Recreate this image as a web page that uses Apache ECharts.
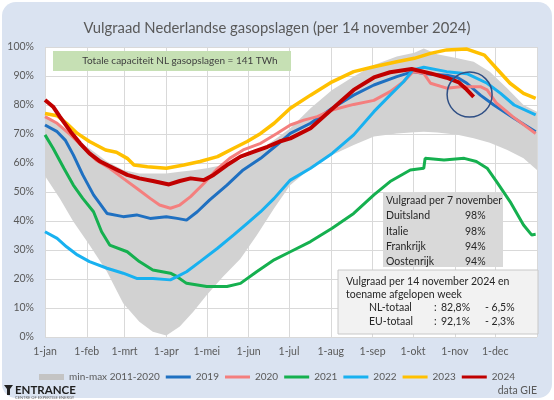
<!DOCTYPE html>
<html><head><meta charset="utf-8">
<script src="https://cdn.jsdelivr.net/npm/echarts@6/dist/echarts.min.js"></script>
<style>
html,body{margin:0;padding:0;background:#fff;}
#panel{position:absolute;left:2px;top:2px;width:550px;height:396px;border-radius:14px;background:#dae3f1;}
#c{position:absolute;left:0;top:0;width:554px;height:400px;}
</style></head>
<body><div id="panel"></div><div id="c"></div>
<script>
// ---- axis / tick data ----
const monthStarts = [0,31,59,90,120,151,181,212,243,273,304,334];
const monthLabels = ['1-jan','1-feb','1-mrt','1-apr','1-mei','1-jun','1-jul','1-aug','1-sep','1-okt','1-nov','1-dec'];
const yearDays = 365;

// ---- min-max band 2011-2020 ----
const bandDays = [0,11,21,33,46,58,70,80,90,100,110,120,132,145,157,170,182,197,213,229,244,261,274,281,291,306,318,330,343,355,365];
const bandMax  = [76,73,68.5,65,60.5,57.6,56.4,56.4,56.4,57,57.5,58.2,59.3,61,63.9,67.9,72,78.9,85.2,89.8,93.8,96.7,98,99.5,97.5,96.1,94.9,91.5,85.7,80,77.7];
const bandMin  = [55.5,47.8,39.8,31.7,22.5,11.6,5.3,1.8,0.5,3.6,8.7,14.5,20.8,27,35,44.4,52.4,58.2,62.8,66.2,69.1,70.2,70.6,70.8,70.5,69.7,68.5,67,64.5,61.6,57.6];

// ---- yearly series: [day of year, % filled] ----
const s2019 = [[0,73.1],[9,70.8],[15,67.9],[21,62.8],[28,55.9],[36,49],[46,42.6],[58,41.5],[68,42.1],[78,40.9],[90,41.5],[98,40.9],[105,40.3],[113,43.2],[122,47.2],[135,52.4],[147,57.6],[160,61.6],[172,66.2],[182,70.2],[197,73.7],[213,78.9],[229,83.4],[244,86.9],[261,89.8],[273,91.5],[286,90.6],[298,90.3],[306,89.5],[313,87.5],[323,83.4],[333,80],[348,75.4],[364,70.8]];
const s2020 = [[0,76],[9,73.7],[19,69.7],[28,65.6],[38,61],[48,58.2],[58,54.7],[68,51.3],[78,47.8],[85,45.5],[93,44.4],[100,45.5],[108,48.4],[118,53],[127,57.6],[137,61.6],[147,64.5],[160,66.8],[172,70.2],[182,73.1],[192,74.8],[202,76],[213,78.3],[229,80.2],[244,81.6],[256,84.6],[266,88],[273,91.5],[281,90.9],[286,87.5],[298,85.8],[308,86.3],[323,86.3],[328,85.2],[335,80.6],[347,76],[364,70.2]];
const s2021 = [[0,69.7],[6,65.1],[14,58.2],[21,52.4],[28,47.8],[36,43.2],[42,36.3],[48,31.7],[61,29.4],[70,26],[80,23.1],[93,22],[98,20.8],[105,18.5],[120,17.4],[135,17.4],[145,18.5],[157,22.5],[170,26.6],[182,29.4],[197,32.9],[213,37.5],[229,42.6],[244,49],[256,53.6],[271,57.6],[281,58.2],[282,61.6],[296,61],[311,61.6],[320,60.5],[328,58.2],[335,53.6],[345,46.7],[355,38.6],[361,35.2],[364,35.4]];
const s2022 = [[0,36.3],[9,34],[16,31.1],[24,28.3],[33,26],[46,23.7],[58,22],[68,20.2],[80,20.2],[93,19.7],[98,20.8],[105,22.5],[115,26],[128,30.6],[140,35.2],[150,39.2],[160,43.2],[170,47.8],[182,54.1],[197,58.2],[213,63.3],[229,69.7],[244,77.7],[256,83.4],[266,88],[273,92.1],[281,93],[298,91.5],[313,90.8],[328,87.5],[338,84],[348,80],[364,76.6]];
const s2023 = [[0,77.1],[9,76.3],[16,73.7],[24,70.2],[33,67.4],[45,64.5],[53,63.7],[61,61.6],[66,59.3],[76,58.7],[90,58.2],[103,59.3],[115,60.5],[128,62.2],[140,65.1],[150,67.4],[160,70.2],[170,73.7],[182,78.9],[197,83.4],[213,88],[229,91.5],[244,93.2],[261,94.9],[274,96.1],[286,97.8],[298,99],[313,99.3],[326,97.2],[335,92.6],[345,87.5],[355,84],[364,82.3]];
const s2024 = [[0,81.7],[6,79.4],[11,76],[19,70.8],[26,66.8],[33,63.3],[41,60.5],[51,58.2],[61,55.9],[70,54.7],[80,53.8],[92,52.6],[100,53.8],[108,54.7],[118,54.1],[125,55.9],[135,59.3],[145,62.2],[155,63.9],[165,65.6],[174,67.4],[182,68.5],[197,72],[213,78.6],[229,85.2],[244,89.5],[256,91.3],[272,92.4],[286,90.9],[298,89.4],[307,87.8],[312,85.7],[318,82.8]];

const yearNames  = ['2019','2020','2021','2022','2023','2024'];
const yearSeries = [s2019,s2020,s2021,s2022,s2023,s2024];
const yearColors = ['#1f70c1','#f47f7e','#15b04f','#18b1f0','#ffc000','#c00000'];
const yearWidths = [3,3,3,3,3.5,4];
const bandName = 'min-max 2011-2020';
const bandColor = '#d2d2d2';

// ---- annotation texts ----
const titleText = 'Vulgraad Nederlandse gasopslagen (per 14 november 2024)';
const capText = 'Totale capaciteit NL gasopslagen = 141 TWh';
const euHeader = 'Vulgraad per 7 november';
const euCountries = ['Duitsland','Italie','Frankrijk','Oostenrijk'];
const euValues = ['98%','98%','94%','94%'];
const nlHeader = ['Vulgraad per 14 november 2024 en','toename afgelopen week'];
const nlRows = [['NL-totaal',':','82,8%','- 6,5%'],['EU-totaal',':','92,1%','- 2,3%']];
const circleCenter = [315, 83.6];

const FONT = 'Lato';
const chart = echarts.init(document.getElementById('c'), null, {renderer:'canvas'});

const bandData = bandDays.map((d,i)=>[d,bandMin[i],bandMax[i]]);

const series = [{
  name: bandName,
  type: 'custom',
  coordinateSystem: 'cartesian2d',
  itemStyle:{color:bandColor},
  data: bandData,
  encode:{x:0,y:[1,2]},
  z:1,
  silent:true,
  renderItem: function(params, api){
    if (params.dataIndex !== 0) return null;
    const up = bandData.map(p=>api.coord([p[0],p[2]]));
    const lo = bandData.map(p=>api.coord([p[0],p[1]])).reverse();
    return {type:'polygon', shape:{points: up.concat(lo)}, style:{fill:bandColor}};
  }
}];
yearNames.forEach((n,i)=>{
  series.push({
    name:n, type:'line', data:yearSeries[i], showSymbol:false, symbol:'none',
    lineStyle:{color:yearColors[i], width:yearWidths[i]}, itemStyle:{color:yearColors[i]},
    z: 3+i, silent:true
  });
});

const linePath = 'path://M0,0H25V3H0Z';
chart.setOption({
  animation:false,
  textStyle:{fontFamily:FONT},
  title:{text:titleText, left:'center', top:16, textStyle:{fontFamily:FONT, fontSize:14.8, fontWeight:'normal', color:'#595959'}},
  grid:{left:45, right:17, top:47, bottom:63, show:true, backgroundColor:'#ffffff', borderWidth:0},
  xAxis:{type:'value', min:0, max:yearDays,
    axisLine:{show:false}, axisTick:{show:false, customValues:monthStarts.concat([yearDays])},
    axisLabel:{customValues:monthStarts, formatter:(v)=>monthLabels[monthStarts.indexOf(v)], color:'#595959', fontSize:10.5, fontFamily:FONT, margin:9},
    splitLine:{show:true, lineStyle:{color:'#d9d9d9', width:1}}
  },
  yAxis:{type:'value', min:0, max:100, interval:10,
    axisLine:{show:false}, axisTick:{show:false},
    axisLabel:{formatter:'{value}%', color:'#595959', fontSize:10.5, fontFamily:FONT, margin:11},
    splitLine:{show:true, lineStyle:{color:'#d9d9d9', width:1}}
  },
  legend:{left:34, top:367, itemWidth:25, itemHeight:6, itemGap:6, symbolKeepAspect:true,
    textStyle:{color:'#595959', fontSize:10, fontFamily:FONT},
    data:[{name:bandName, icon:'rect', itemStyle:{color:'#c4c4c4'}}].concat(yearNames.map(n=>({name:n, icon:linePath})))
  },
  series: series
});

// annotations
const cc = chart.convertToPixel({gridIndex:0}, circleCenter);
const tStyle = (txt,x,y,extra)=>Object.assign({type:'text', x:x, y:y, z:100, style:Object.assign({text:txt, fill:'#262626', font:'10.5px '+FONT, textVerticalAlign:'middle'}, extra||{})});
const g = [];
// capacity box
g.push({type:'rect', shape:{x:53,y:51,width:238,height:20}, style:{fill:'#c6e0b4'}, z:100});
g.push(tStyle(capText, 180, 61, {textAlign:'center', fill:'#404040', font:'10px '+FONT}));
// EU box
g.push({type:'rect', shape:{x:383,y:193,width:120,height:74}, style:{fill:'#d9d9d9'}, z:100});
g.push(tStyle(euHeader, 386, 201));
euCountries.forEach((c,i)=>{
  g.push(tStyle(c, 386, 216+i*15.3));
  g.push(tStyle(euValues[i], 465, 216+i*15.3));
});
// NL box
g.push({type:'rect', shape:{x:338,y:270,width:200,height:64}, style:{fill:'#f2f2f2', stroke:'#c8c8c8', lineWidth:1}, z:100});
g.push(tStyle(nlHeader[0], 346, 282));
g.push(tStyle(nlHeader[1], 346, 295));
nlRows.forEach((r,i)=>{
  const y = 308+i*13.3;
  g.push(tStyle(r[0], 369, y));
  g.push(tStyle(r[1], 434, y));
  g.push(tStyle(r[2], 441, y));
  g.push(tStyle(r[3], 485, y));
});
// circle
g.push({type:'circle', shape:{cx:cc[0], cy:cc[1], r:22.5}, style:{fill:'none', stroke:'#2f4f85', lineWidth:1.5}, z:101});
// logo + source
g.push({type:'polygon', shape:{points:[[4,385],[13,385],[10,389],[10,395],[7,395],[7,389]]}, style:{fill:'#222'}, z:100});
g.push(tStyle('ENTRANCE', 15, 390, {font:'bold 11.5px '+FONT, fill:'#1e1e1e'}));
g.push(tStyle('CENTRE OF EXPERTISE ENERGY', 15, 398, {font:'4px '+FONT, fill:'#666'}));
g.push(tStyle('data GIE', 537, 391, {textAlign:'right', font:'10.5px '+FONT, fill:'#595959'}));
chart.setOption({graphic: g});
</script>
</body></html>
